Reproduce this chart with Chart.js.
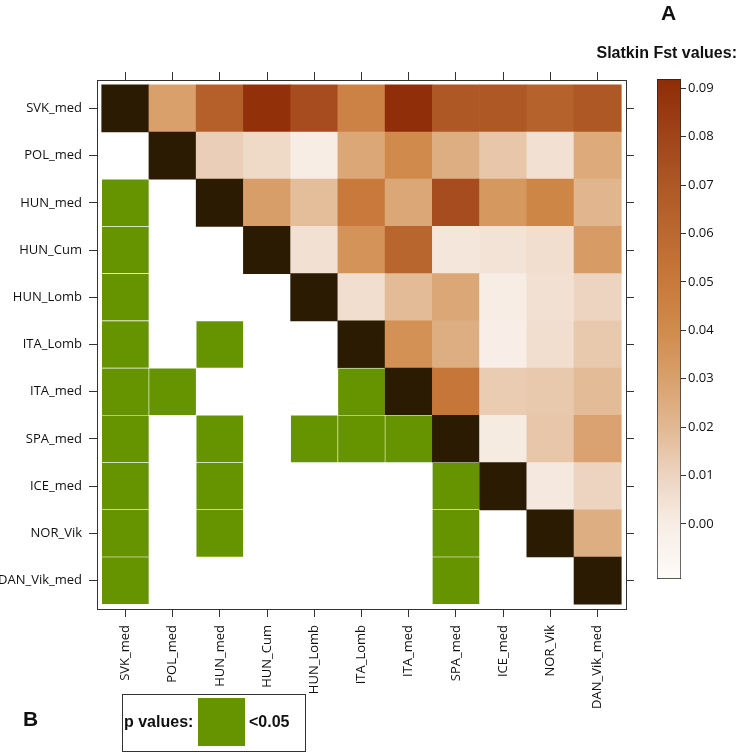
<!DOCTYPE html>
<html>
<head>
<meta charset="utf-8">
<script src="https://cdn.jsdelivr.net/npm/chart.js@4.4.0/dist/chart.umd.min.js"></script>
<style>
  body { margin: 0; background: #fff; }
  #wrap { position: relative; width: 740px; height: 753px; overflow: hidden; }
  #matrix { position: absolute; left: 0; top: 0; }
  #scale { position: absolute; left: 640px; top: 60px; }
  .lbl { position: absolute; font-family: "Liberation Sans", Arial, sans-serif; font-weight: bold; color: #111; white-space: nowrap; }
  #pbox { position: absolute; left: 122px; top: 694px; width: 182px; height: 56px; border: 1.5px solid #333; }
  #pgreen { position: absolute; left: 75px; top: 3px; width: 47px; height: 48px; background: #669400; }
</style>
</head>
<body>
<div id="wrap">
  <canvas id="matrix" width="740" height="753"></canvas>
  <canvas id="scale" width="100" height="540"></canvas>
  <div class="lbl" style="left:661px; top:1px; font-size:21px;">A</div>
  <div class="lbl" style="right:3px; top:44px; font-size:16px; line-height:18px;">Slatkin Fst values:</div>
  <div class="lbl" style="left:23px; top:707px; font-size:21px;">B</div>
  <div id="pbox">
    <div class="lbl" style="left:1px; top:18px; font-size:16px; line-height:18px;">p values:</div>
    <div id="pgreen"></div>
    <div class="lbl" style="left:126px; top:18px; font-size:16px; line-height:18px;">&lt;0.05</div>
  </div>
</div>
<script>
var populations = ["SVK_med", "POL_med", "HUN_med", "HUN_Cum", "HUN_Lomb", "ITA_Lomb",
    "ITA_med", "SPA_med", "ICE_med", "NOR_Vik", "DAN_Vik_med"];

// Slatkin Fst, upper triangle: each row holds the columns right of the diagonal
var fstRows = [
    [0.030, 0.065, 0.090, 0.076, 0.045, 0.091, 0.070, 0.070, 0.064, 0.070], // SVK_med
    [0.012, 0.008, 0.000, 0.027, 0.040, 0.024, 0.015, 0.005, 0.026],        // POL_med
    [0.031, 0.018, 0.050, 0.027, 0.076, 0.034, 0.043, 0.021],               // HUN_med
    [0.005, 0.036, 0.062, 0.003, 0.004, 0.006, 0.032],                      // HUN_Cum
    [0.006, 0.019, 0.027, 0.000, 0.005, 0.010],                             // HUN_Lomb
    [0.037, 0.024, -0.001, 0.006, 0.014],                                   // ITA_Lomb
    [0.052, 0.013, 0.014, 0.019],                                           // ITA_med
    [0.001, 0.015, 0.029],                                                  // SPA_med
    [0.002, 0.010],                                                         // ICE_med
    [0.024]                                                                 // NOR_Vik
];

// lower triangle: pairs with p < 0.05
var pSignificant = [
    [],
    [],
    ["SVK_med"],
    ["SVK_med"],
    ["SVK_med"],
    ["SVK_med", "HUN_med"],
    ["SVK_med", "POL_med", "ITA_Lomb"],
    ["SVK_med", "HUN_med", "HUN_Lomb", "ITA_Lomb", "ITA_med"],
    ["SVK_med", "HUN_med", "SPA_med"],
    ["SVK_med", "HUN_med", "SPA_med"],
    ["SVK_med", "SPA_med"]
];

var scaleMin = -0.0114;
var scaleMax = 0.0919;
var scaleTicks = [0.00, 0.01, 0.02, 0.03, 0.04, 0.05, 0.06, 0.07, 0.08, 0.09];

var stopValues = [-0.0114, 0.000, 0.010, 0.020, 0.030, 0.040, 0.050, 0.060, 0.070, 0.080, 0.0919];
var stopColors = ["#fdfbf9", "#f7ede5", "#edd4c0", "#e2b892", "#d9a06c", "#d08b4c",
    "#c8793b", "#bc6830", "#ae5825", "#a0441a", "#8e2c06"];

function hexRgb(h) {
    return [parseInt(h.substr(1, 2), 16), parseInt(h.substr(3, 2), 16), parseInt(h.substr(5, 2), 16)];
}

function fstColor(v) {
    if (v <= stopValues[0]) return stopColors[0];
    for (var i = 1; i < stopValues.length; i++) {
        if (v <= stopValues[i]) {
            var t = (v - stopValues[i - 1]) / (stopValues[i] - stopValues[i - 1]);
            var a = hexRgb(stopColors[i - 1]), b = hexRgb(stopColors[i]);
            return "rgb(" + a.map(function (c, k) { return Math.round(c + (b[k] - c) * t); }).join(",") + ")";
        }
    }
    return stopColors[stopColors.length - 1];
}

var cells = [];
populations.forEach(function (rowName, r) {
    populations.forEach(function (colName, c) {
        var cell = {x: c, y: [r - 0.5, r + 0.5]};
        if (c === r) {
            cell.kind = "diag";
        } else if (c > r) {
            cell.kind = "fst";
            cell.v = fstRows[r][c - r - 1];
        } else if (pSignificant[r].indexOf(colName) >= 0) {
            cell.kind = "sig";
        } else {
            return;
        }
        cells.push(cell);
    });
});

function popTicks(axis) {
    axis.ticks = populations.map(function (p, i) { return {value: i}; });
}

var tickFont = {family: "'Open Sans', sans-serif", size: 13};
var frame = {display: true, color: "#333", width: 1};
var marks = {display: true, offset: false, drawOnChartArea: false, drawTicks: true, tickLength: 8, tickColor: "#333", tickWidth: 1};

new Chart(document.getElementById("matrix"), {
    type: "bar",
    data: {
        datasets: [{
            data: cells,
            xAxisID: "x",
            yAxisID: "y",
            barPercentage: 1,
            categoryPercentage: 1,
            borderSkipped: false,
            backgroundColor: function (ctx) {
                var d = ctx.raw;
                if (!d) return "#fff";
                if (d.kind === "diag") return "#2b1b03";
                if (d.kind === "sig") return "#669400";
                return fstColor(d.v);
            },
            borderWidth: function (ctx) {
                return ctx.raw && ctx.raw.kind === "sig" ? 0.6 : 0;
            },
            borderColor: "#ffffff"
        }]
    },
    options: {
        responsive: false,
        animation: false,
        layout: {padding: 0},
        plugins: {legend: {display: false}, tooltip: {enabled: false}},
        scales: {
            x: {
                type: "linear", position: "bottom", min: -0.6, max: 10.6, offset: false,
                afterBuildTicks: popTicks,
                afterFit: function (s) { s.height = 144; },
                border: frame, grid: marks,
                ticks: {
                    autoSkip: false, maxRotation: 90, minRotation: 90, padding: 8,
                    color: "#111", font: tickFont,
                    callback: function (v) { return populations[v]; }
                }
            },
            x2: {
                type: "linear", axis: "x", position: "top", min: -0.6, max: 10.6, offset: false,
                afterBuildTicks: popTicks,
                afterFit: function (s) { s.height = 80; },
                border: frame, grid: marks,
                ticks: {display: false}
            },
            y: {
                type: "linear", position: "left", reverse: true, min: -0.6, max: 10.6, offset: false,
                afterBuildTicks: popTicks,
                afterFit: function (s) { s.width = 97; },
                border: frame, grid: marks,
                ticks: {
                    padding: 7, color: "#111", font: tickFont,
                    callback: function (v) { return populations[v]; }
                }
            },
            y2: {
                type: "linear", axis: "y", position: "right", reverse: true, min: -0.6, max: 10.6, offset: false,
                afterBuildTicks: popTicks,
                afterFit: function (s) { s.width = 114; },
                border: frame, grid: marks,
                ticks: {display: false}
            }
        }
    }
});

// colour key
new Chart(document.getElementById("scale"), {
    type: "bar",
    data: {
        labels: [""],
        datasets: [{
            data: [[scaleMin, scaleMax]],
            barPercentage: 1,
            categoryPercentage: 1,
            borderSkipped: false,
            borderWidth: 1,
            borderColor: "#222",
            backgroundColor: function (ctx) {
                var area = ctx.chart.chartArea;
                if (!area) return "#ddd";
                var g = ctx.chart.ctx.createLinearGradient(0, area.bottom, 0, area.top);
                stopValues.forEach(function (v, i) {
                    g.addColorStop((v - scaleMin) / (scaleMax - scaleMin), stopColors[i]);
                });
                return g;
            }
        }]
    },
    options: {
        responsive: false,
        animation: false,
        layout: {padding: {left: 17, top: 19, bottom: 21, right: 0}},
        plugins: {legend: {display: false}, tooltip: {enabled: false}},
        scales: {
            x: {display: false},
            y: {
                position: "right", min: scaleMin, max: scaleMax,
                afterBuildTicks: function (axis) {
                    axis.ticks = scaleTicks.map(function (v) { return {value: v}; });
                },
                afterFit: function (s) { s.width = 59; },
                border: {display: false},
                grid: {display: true, drawOnChartArea: false, tickLength: 5, tickColor: "#333"},
                ticks: {
                    padding: 2, color: "#111", font: tickFont,
                    callback: function (v) { return v.toFixed(2); }
                }
            }
        }
    }
});
</script>
</body>
</html>
